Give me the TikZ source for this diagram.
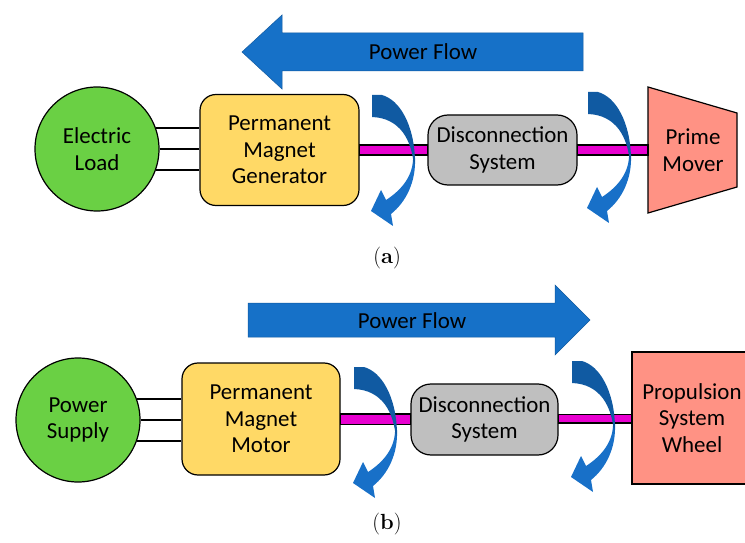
\documentclass[tikz,border=0pt]{standalone}
\usepackage{fontspec}
\newfontfamily\calibri{Carlito}
\usetikzlibrary{calc}

\definecolor{loadgreen}{RGB}{106,208,68}
\definecolor{boxyellow}{RGB}{255,217,102}
\definecolor{discgray}{RGB}{191,191,191}
\definecolor{moversalmon}{RGB}{255,146,132}
\definecolor{shaftpink}{RGB}{232,0,208}
\definecolor{flowblue}{RGB}{22,113,200}
\definecolor{spindark}{RGB}{16,90,162}
\definecolor{spinlight}{RGB}{24,112,200}

\tikzset{
    lbl/.style={font=\calibri\fontsize{23}{26.5}\selectfont, align=center, text=black},
    source/.style={lbl, circle, draw, line width=1.2bp, fill=loadgreen, minimum size=124bp, inner sep=0pt},
    machine/.style={lbl, draw, line width=1.2bp, fill=boxyellow, rounded corners=16bp, minimum width=159bp, minimum height=111bp},
    clutch/.style={lbl, draw, line width=1.2bp, fill=discgray, rounded corners=20bp, minimum width=149bp, minimum height=70bp},
    wire/.style={line width=2bp},
    shaft/.style={draw, line width=1.2bp, fill=shaftpink},
    flow/.style={fill=flowblue, draw=flowblue!80!black, line width=0.5bp},
    caption/.style={font=\fontsize{22}{26}\selectfont},
}

\begin{document}
\begin{tikzpicture}[x=1bp,y=-1bp]
        \useasboundingbox (0,0) rectangle (745,543);
        \clip (0,0) rectangle (745,543);
        % (a) generator side
        \node[source] (load) at (97,149) {Electric\\Load};
        \node[machine] (gen) at (279.5,150) {Permanent\\Magnet\\Generator};
        \node[clutch] (disca) at (502.5,150) {Disconnection\\System};
        \coordinate (mover) at (648,150);
        \draw[line width=1.2bp, fill=moversalmon] (mover) ++(0,-63) -- ++(89,26) -- ++(0,74) -- ++(-89,26) -- cycle;
        \node[lbl] (moverlbl) at (693,150) {Prime\\Mover};
        % (b) motor side
        \node[source] (supply) at (78,420) {Power\\Supply};
        \node[machine, minimum width=158bp, minimum height=112bp] (motor) at (261,419) {Permanent\\Magnet\\Motor};
        \node[clutch, minimum width=147bp, minimum height=71bp] (discb) at (484.5,419.5) {Disconnection\\System};
        \node[draw, line width=1.2bp, fill=moversalmon, minimum width=130bp, minimum height=132bp] (wheel) at (697,418) {};
        \node[lbl] (wheellbl) at (692,418) {Propulsion\\System\\Wheel};
        % three phase wires
        \foreach \a in {20,0,-20} {
            \draw[wire] (load.\a) -- (load.\a -| gen.west);
            \draw[wire] (supply.\a) -- (supply.\a -| motor.west);
        }
        % shafts
        \draw[shaft] ($(gen.east)+(0,-5)$) rectangle ($(disca.west)+(0,5)$);
        \draw[shaft] ($(disca.east)+(0,-5)$) rectangle ($(mover)+(0,5)$);
        \draw[shaft] ($(motor.east)+(0,-5)$) rectangle ($(discb.west)+(0,5)$);
        \draw[shaft] ($(discb.east)+(0,-5)$) rectangle ($(wheel.west)+(0,5)$);
        % rotation arrows on the shafts
        \foreach \sx/\sy in {0/0, 216/-3, -18/272, 200/266} {
            \begin{scope}[shift={(\sx,\sy)}]
                \fill[spinlight] (415,158) .. controls (416,182) and (406,202) .. (391,214)
                    -- (393,226) -- (371,211) -- (381,190) -- (386,200)
                    .. controls (400,191) and (412,178) .. (413,160) -- cycle;
                \fill[spindark] (372,95) -- (382,95) .. controls (400,100) and (414,125) .. (415,160)
                    -- (414,167) .. controls (412,140) and (400,118) .. (372,117) -- cycle;
            \end{scope}
        }
        % power flow arrows
        \draw[flow] (583,33) -- (282,33) -- (282,15) -- (242,52) -- (282,89) -- (282,71) -- (583,71) -- cycle;
        \node[lbl] (flowa) at (423,52) {Power Flow};
        \draw[flow] (248,303) -- (555,303) -- (555,285) -- (590,320) -- (555,355) -- (555,337) -- (248,337) -- cycle;
        \node[lbl] (flowb) at (412,321) {Power Flow};
        % captions
        \node[caption] (capa) at (387,258) {(\textbf{a})};
        \node[caption] (capb) at (387,524) {(\textbf{b})};
\end{tikzpicture}
\end{document}
